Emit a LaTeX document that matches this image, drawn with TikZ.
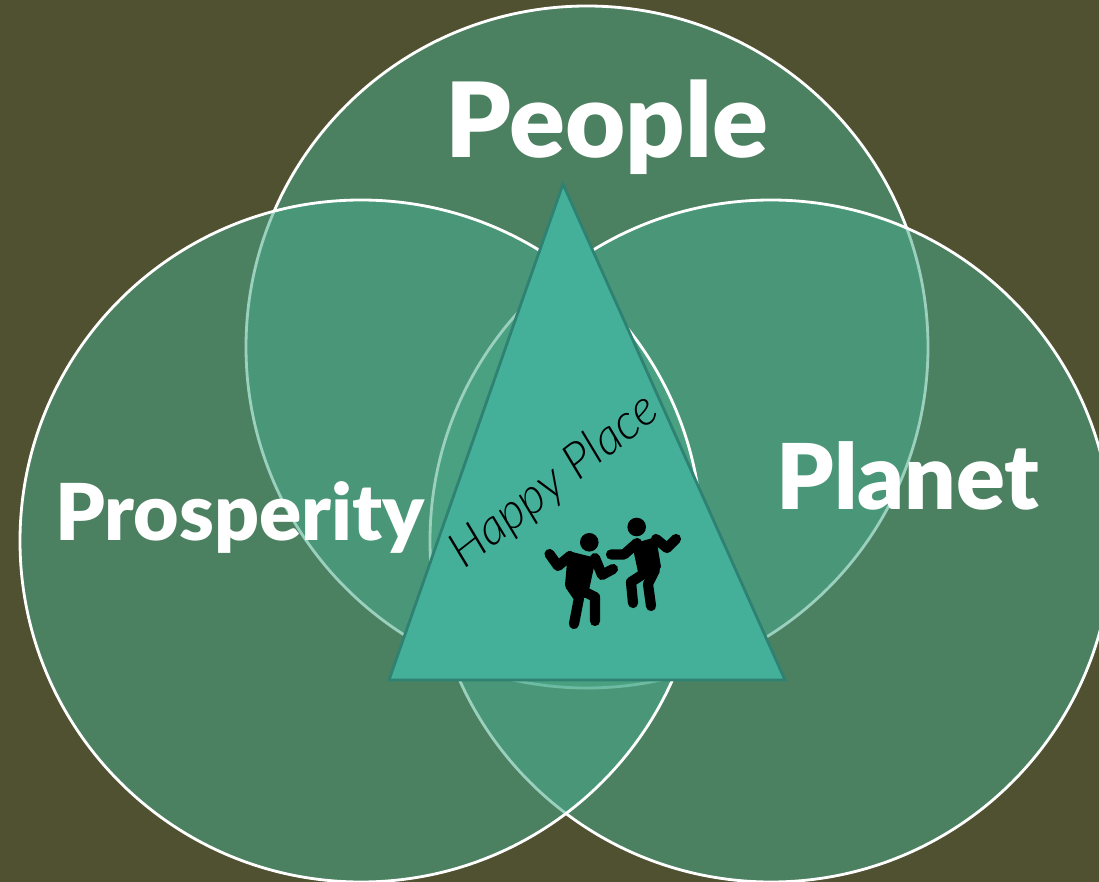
\documentclass[tikz,border=0pt]{standalone}
\usepackage{fontspec}
\setmainfont{Lato Black}
\newfontfamily\handfont{Lato Light}
\definecolor{bgolive}{HTML}{4F5130}
\definecolor{ringgreen}{HTML}{49AA8B}
\definecolor{triteal}{HTML}{45B09A}
\definecolor{triedge}{HTML}{2F8272}
\tikzset{
ring/.style={fill=ringgreen, fill opacity=0.55, draw=white, line width=0.8pt},
bigword/.style={text=white, font=\fontsize{#1}{#1}\selectfont, inner sep=0pt},
limb/.style={line width=2.9pt, line cap=round, line join=round}
}
\begin{document}
\begin{tikzpicture}[x=0.01cm, y=-0.01cm]
\useasboundingbox (0,0) rectangle (1099,882);
\clip (0,0) rectangle (1099,882);
\fill[bgolive] (0,0) rectangle (1099,882);
% three rings
\draw[ring] (587,347) circle [radius=341];
\draw[ring] (771,541) circle [radius=341];
\draw[ring] (361,541) circle [radius=341];
% triangle
\draw[fill=triteal, draw=triedge, line width=0.8pt] (563,184) -- (785,680) -- (389,680) -- cycle;
\node[bigword=29.5] (people) at (607,127) {People};
\node[bigword=22.3] (prosperity) at (240,517) {Prosperity};
\node[bigword=25.8] (planet) at (908,476) {Planet};
\node[rotate=38, text=black, inner sep=0pt, font=\handfont\itshape\fontsize{14}{14}\selectfont] (happy) at (555,482) {Happy Place};
% left dancer
\fill (589.3,542.3) circle [radius=9.3];
\fill[line join=round] (568,551) -- (596,558) -- (589,590) -- (585,598) -- (565,585) -- cycle;
\draw[limb] (549.5,554) -- (558,566) -- (570,556);
\draw[limb] (595,558) -- (602,575) -- (613,569);
\draw[limb] (570,585) -- (579,598) -- (574,624);
\draw[limb] (585,592) -- (595,597) -- (595,621);
% right dancer
\fill (636.7,527) circle [radius=9.3];
\fill[line join=round] (632,544) -- (656,537) -- (661,567) -- (652,580) -- (638,572) -- cycle;
\draw[limb] (611,554.5) -- (624,554.5) -- (637,543);
\draw[limb] (656,539) -- (667,548) -- (676,539);
\draw[limb] (648,571) -- (631,582) -- (633,603);
\draw[limb] (655,570) -- (648,584) -- (651,606);
\end{tikzpicture}
\end{document}
